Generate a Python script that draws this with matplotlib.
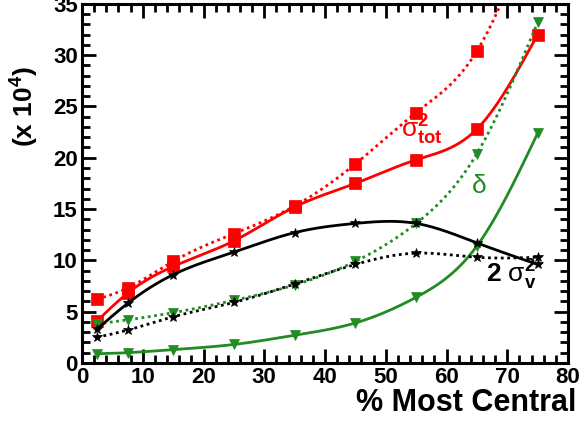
import numpy as np
import matplotlib
matplotlib.use("Agg")
import matplotlib.pyplot as plt
from matplotlib.ticker import MultipleLocator

plt.rcParams['font.family'] = ['Liberation Sans', 'DejaVu Sans']
plt.rcParams['mathtext.fontset'] = 'custom'
plt.rcParams['mathtext.rm'] = 'Liberation Sans'
plt.rcParams['mathtext.it'] = 'Liberation Sans:italic'
plt.rcParams['mathtext.bf'] = 'Liberation Sans:bold'

# centrality bins (% most central)
centrality = [2.5, 7.5, 15, 25, 35, 45, 55, 65, 75]

# red : sigma_tot^2
sig_tot_solid = [4.1, 6.8, 9.4, 11.9, 15.2, 17.5, 19.8, 22.8, 32.0]
sig_tot_dotted = [6.2, 7.3, 9.9, 12.6, 15.3, 19.4, 24.4, 30.4, 44.0]
# green : delta
delta_solid = [0.9, 1.0, 1.3, 1.8, 2.7, 3.9, 6.4, 11.4, 22.4]
delta_dotted = [3.8, 4.2, 4.9, 6.1, 7.6, 9.9, 13.6, 20.4, 33.2]
# black : 2 sigma_v^2
sig_v_solid = [3.3, 5.8, 8.6, 10.8, 12.7, 13.6, 13.6, 11.7, 9.6]
sig_v_dotted = [2.5, 3.2, 4.5, 5.9, 7.7, 9.6, 10.7, 10.3, 10.3]

RED = '#ff0000'
GREEN = '#228b22'
BLACK = '#000000'


# natural cubic spline, only used to draw the smooth connecting line
def smooth(x, y, n=300):
    x = np.asarray(x, float)
    y = np.asarray(y, float)
    k = len(x)
    h = np.diff(x)
    A = np.zeros((k, k))
    b = np.zeros(k)
    A[0, 0] = 1
    A[-1, -1] = 1
    for i in range(1, k - 1):
        A[i, i - 1] = h[i - 1]
        A[i, i] = 2 * (h[i - 1] + h[i])
        A[i, i + 1] = h[i]
        b[i] = 3 * ((y[i + 1] - y[i]) / h[i] - (y[i] - y[i - 1]) / h[i - 1])
    c = np.linalg.solve(A, b)
    xs = np.linspace(x[0], x[-1], n)
    ys = np.empty_like(xs)
    for j, xv in enumerate(xs):
        i = min(np.searchsorted(x, xv, side='right') - 1, k - 2)
        dx = xv - x[i]
        bi = (y[i + 1] - y[i]) / h[i] - h[i] * (2 * c[i] + c[i + 1]) / 3
        di = (c[i + 1] - c[i]) / (3 * h[i])
        ys[j] = y[i] + bi * dx + c[i] * dx ** 2 + di * dx ** 3
    return xs, ys


fig = plt.figure(figsize=(5.8, 4.25), dpi=100)
ax = fig.add_axes([0.1414, 0.146, 0.838, 0.845])

dots = (0, (1.0, 1.3))
series = [
    (sig_tot_solid, RED, '-', 's', 8),
    (sig_tot_dotted, RED, dots, 's', 8),
    (delta_solid, GREEN, '-', 'v', 7.5),
    (delta_dotted, GREEN, dots, 'v', 7.5),
    (sig_v_solid, BLACK, '-', '*', 7),
    (sig_v_dotted, BLACK, dots, '*', 7),
]
for vals, col, ls, mk, ms in series:
    xs, ys = smooth(centrality, vals)
    ax.plot(xs, ys, color=col, ls=ls, lw=2.0)
    ax.plot(centrality, vals, ls='none', marker=mk, ms=ms, color=col,
            markeredgewidth=0.5)

ax.set_xlim(0, 80)
ax.set_ylim(0, 35)
ax.xaxis.set_major_locator(MultipleLocator(10))
ax.xaxis.set_minor_locator(MultipleLocator(2))
ax.yaxis.set_major_locator(MultipleLocator(5))
ax.yaxis.set_minor_locator(MultipleLocator(1))
ax.tick_params(which='both', direction='in', top=True, right=True, width=2.0)
ax.tick_params(which='major', length=10, labelsize=16, pad=3)
ax.tick_params(which='minor', length=5.5)
for lab in ax.get_xticklabels() + ax.get_yticklabels():
    lab.set_fontweight('bold')
for sp in ax.spines.values():
    sp.set_linewidth(2.2)

ax.set_xlabel('% Most Central', fontsize=22, fontweight='bold', ha='right')
ax.xaxis.set_label_coords(1.018, -0.07)
ax.set_ylabel(r'(x 10$^{\mathbf{4}}$)', fontsize=19, fontweight='bold')
ax.yaxis.set_label_coords(-0.085, 0.713)

ax.text(56, 22.7, r'$\mathrm{\sigma}^{\mathbf{2}}_{\mathbf{tot}}$', color=RED,
        fontsize=19, ha='center', va='center')
ax.text(65.3, 17.2, r'$\mathrm{\delta}$', color=GREEN, fontsize=19,
        ha='center', va='center')
ax.text(70.6, 8.6, r'$\mathbf{2}\ \mathrm{\sigma}^{\mathbf{2}}_{\mathbf{v}}$',
        color=BLACK, fontsize=19, ha='center', va='center')

fig.savefig('out.png', dpi=100)
